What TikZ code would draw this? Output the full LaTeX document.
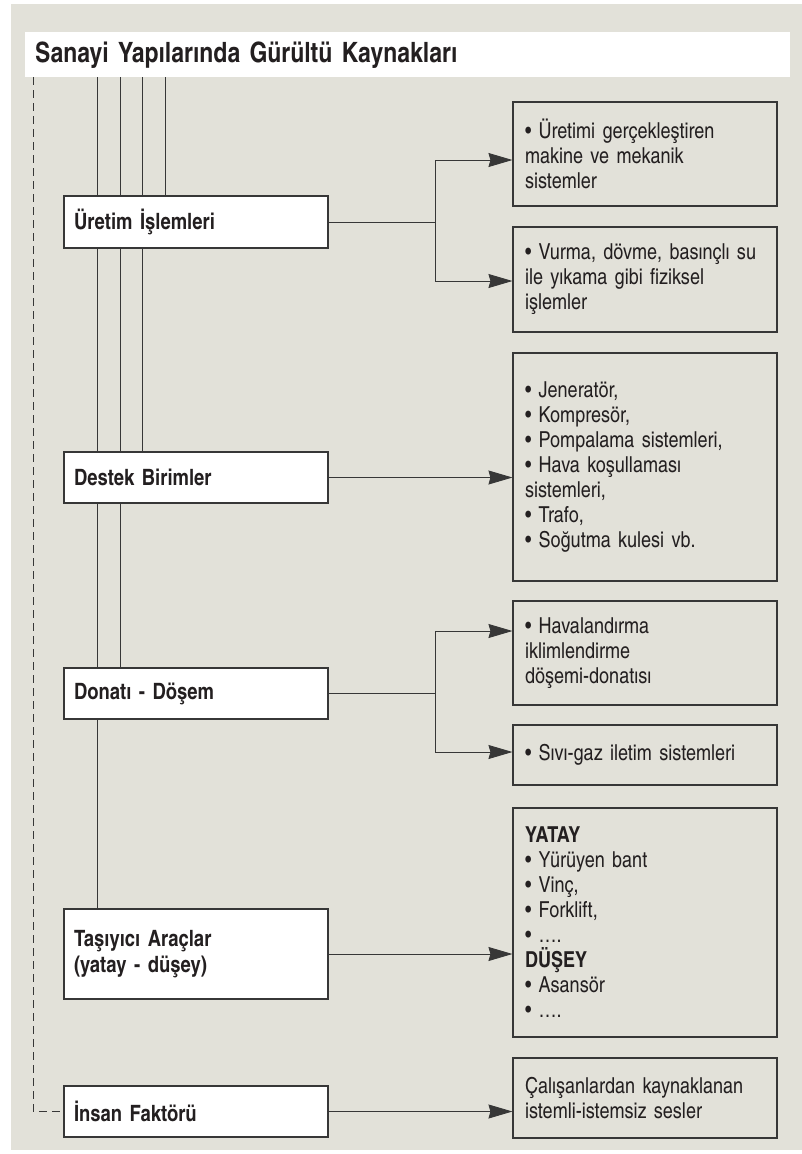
\documentclass[tikz,border=0pt]{standalone}
\usepackage{fontspec}
\setmainfont{texgyreheroscn}[Extension=.otf, UprightFont=*-regular, BoldFont=*-bold]
\usepackage{tikz}
\usetikzlibrary{arrows.meta,calc,backgrounds}
\definecolor{paper}{RGB}{226,225,217}
\definecolor{ink}{RGB}{35,31,32}
\definecolor{wire}{RGB}{55,55,55}

\begin{document}
\begin{tikzpicture}[
  x=1pt, y=-1pt,
  >={Stealth[length=24pt,width=14pt,inset=2pt]},
  every node/.style={text=ink},
  titlebar/.style={fill=white, text width=745pt, inner xsep=10pt, minimum height=45pt, align=left, font=\bfseries\fontsize{28}{32}\selectfont},
  src/.style={draw=wire, line width=1.1pt, fill=white, text width=244pt, inner xsep=10pt, minimum height=#1, align=left, font=\bfseries\fontsize{22.5}{26}\selectfont},
  item/.style={draw=wire, line width=1.1pt, text width=240pt, inner xsep=12pt, minimum height=#1, align=left, font=\fontsize{22}{25}\selectfont},
  link/.style={draw=wire, line width=0.9pt},
  arr/.style={link, ->},
  dashlink/.style={link, dash pattern=on 8pt off 5pt}
]
\useasboundingbox (0,0) rectangle (802,1154);
\begin{scope}[on background layer]
  \fill[paper] (11,4) rectangle (802,1150);
\end{scope}

\node[titlebar, anchor=north west] (title) at (25,32) {Sanayi Yapılarında Gürültü Kaynakları};

\node[src=52pt] (uretim) at (196,222) {Üretim İşlemleri};
\node[src=51pt] (destek) at (196,477.5) {Destek Birimler};
\node[src=51pt] (donati) at (196,693.5) {Donatı - Döşem};
\node[src=90pt] (tasiyici) at (196,954) {Taşıyıcı Araçlar\\(yatay - düşey)};
\node[src=51pt] (insan) at (196,1111.5) {İnsan Faktörü};

\node[item=104pt] (uretimA) at (645,154) {• Üretimi gerçekleştiren\\makine ve mekanik\\sistemler};
\node[item=105pt] (uretimB) at (645,279.5) {• Vurma, dövme, basınçlı su\\ile yıkama gibi fiziksel\\işlemler};
\node[item=228pt] (destekR) at (645,467) {• Jeneratör,\\• Kompresör,\\• Pompalama sistemleri,\\• Hava koşullaması\\sistemleri,\\• Trafo,\\• Soğutma kulesi vb.};
\node[item=104pt] (donatiA) at (645,653) {• Havalandırma\\iklimlendirme\\döşemi-donatısı};
\node[item=60pt] (donatiB) at (645,755) {• Sıvı-gaz iletim sistemleri};
\node[item=229pt] (tasiyiciR) at (645,922.5) {\textbf{YATAY}\\• Yürüyen bant\\• Vinç,\\• Forklift,\\• ….\\\textbf{DÜŞEY}\\• Asansör\\• ….};
\node[item=80pt] (insanR) at (645,1098) {Çalışanlardan kaynaklanan\\istemli-istemsiz sesler};

\begin{scope}[on background layer]
  \draw[link] (165,0 |- title.south) -- (165,0 |- uretim.north);
  \draw[link] (142,0 |- title.south) -- (142,0 |- destek.north);
  \draw[link] (120,0 |- title.south) -- (120,0 |- donati.north);
  \draw[link] (97,0 |- title.south) -- (97,0 |- tasiyici.north);
  \draw[dashlink] (33,0 |- title.south) |- (insan.west);
\end{scope}

\draw[link] (uretim.east) -- ++(107,0) coordinate (uretimJ);
\draw[arr] (uretimJ) |- ([yshift=-6pt]uretimA.west);
\draw[arr] (uretimJ) |- ([yshift=-1.5pt]uretimB.west);
\draw[arr] (destek.east) -- (destek.east -| destekR.west);
\draw[link] (donati.east) -- ++(107,0) coordinate (donatiJ);
\draw[arr] (donatiJ) |- ([yshift=22pt]donatiA.west);
\draw[arr] (donatiJ) |- ([yshift=3pt]donatiB.west);
\draw[arr] (tasiyici.east) -- (tasiyici.east -| tasiyiciR.west);
\draw[arr] (insan.east) -- (insan.east -| insanR.west);
\end{tikzpicture}
\end{document}
